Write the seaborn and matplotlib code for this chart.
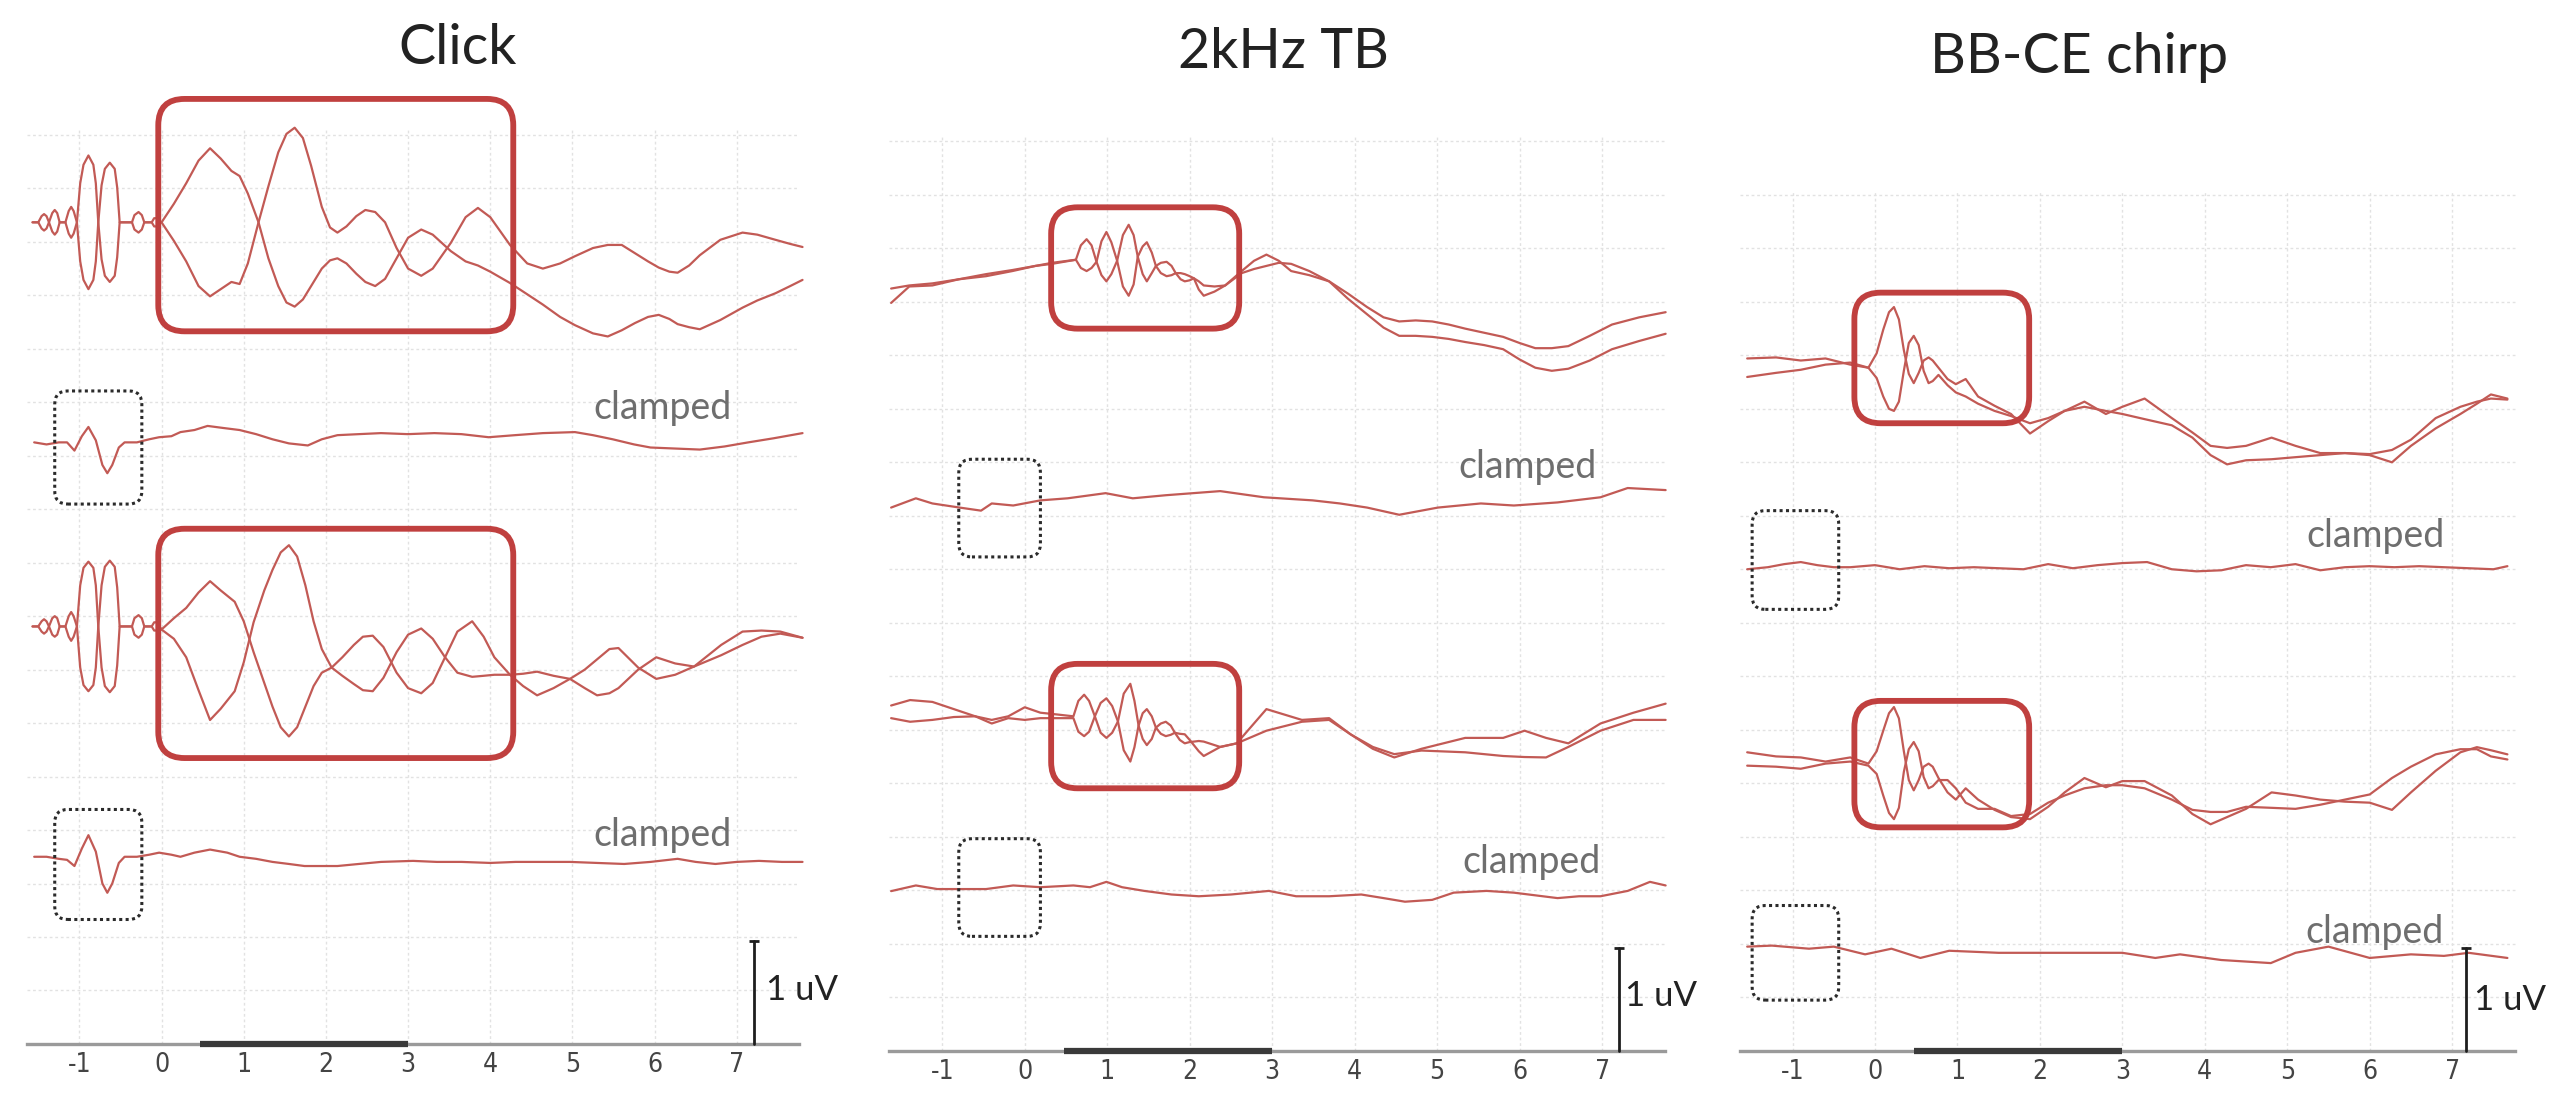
import numpy as np
import matplotlib.pyplot as plt
import seaborn as sns
from matplotlib.patches import FancyBboxPatch

sns.set_theme(style='white')
plt.rcParams['font.family'] = ['Lato', 'DejaVu Sans']
plt.rcParams['axes.unicode_minus'] = False

# ---------------- data (time in ms, amplitude in uV relative to row baseline) ----------------
titles = ['Click', '2kHz TB', 'BB-CE chirp']
tick_ms = [-1, 0, 1, 2, 3, 4, 5, 6, 7]

# Click, row 1 (two polarities): stimulus artefact then response
click_r1_t = [-1.57, -1.50, -1.46, -1.43, -1.40, -1.37, -1.33, -1.30, -1.27, -1.24, -1.17, -1.13,
              -1.10, -1.07, -1.03, -0.99, -0.95, -0.89, -0.83, -0.80, -0.77, -0.73, -0.69, -0.63,
              -0.57, -0.54, -0.51, -0.36, -0.33, -0.28, -0.24, -0.21, -0.12, -0.09, -0.06, -0.03,
              0.0, 0.15, 0.30, 0.45, 0.59, 0.72, 0.85, 0.95, 1.05, 1.18, 1.30, 1.42, 1.52, 1.62,
              1.72, 1.82, 1.95, 2.05, 2.14, 2.25, 2.37, 2.48, 2.60, 2.72, 2.86, 3.00, 3.16, 3.30,
              3.52, 3.70, 3.85, 4.00, 4.24, 4.45, 4.64, 4.85, 5.03, 5.25, 5.43, 5.60, 5.76, 5.92,
              6.05, 6.18, 6.28, 6.42, 6.55, 6.80, 7.07, 7.25, 7.47, 7.65, 7.80]
click_r1_a = [0, 0, 0.06, 0.08, 0.06, 0, -0.09, -0.12, -0.09, 0, 0, 0.11,
              0.15, 0.11, 0, -0.38, -0.56, -0.65, -0.56, -0.38, 0, 0.36, 0.52, 0.58,
              0.52, 0.34, 0, 0, 0.07, 0.10, 0.07, 0, 0, 0.04, 0.04, 0,
              0.0, 0.18, 0.38, 0.60, 0.72, 0.62, 0.50, 0.45, 0.28, 0.0, -0.35, -0.62, -0.78, -0.82,
              -0.75, -0.62, -0.45, -0.37, -0.35, -0.40, -0.50, -0.58, -0.62, -0.55, -0.35, -0.15,
              -0.07, -0.12, -0.28, -0.38, -0.42, -0.48, -0.59, -0.70, -0.80, -0.92, -1.00, -1.08,
              -1.11, -1.05, -0.98, -0.92, -0.90, -0.94, -0.99, -1.02, -1.04, -0.95, -0.83, -0.76,
              -0.69, -0.62, -0.56]
click_r1_b = [0, 0, -0.06, -0.08, -0.06, 0, 0.09, 0.12, 0.09, 0, 0, -0.11,
              -0.15, -0.11, 0, 0.38, 0.56, 0.65, 0.56, 0.38, 0, -0.36, -0.52, -0.58,
              -0.52, -0.34, 0, 0, -0.07, -0.10, -0.07, 0, 0, -0.04, -0.04, 0,
              0.0, -0.18, -0.38, -0.62, -0.72, -0.65, -0.58, -0.60, -0.40, 0.0, 0.35, 0.68, 0.86,
              0.92, 0.82, 0.55, 0.15, -0.05, -0.10, -0.04, 0.06, 0.12, 0.10, 0.0, -0.25, -0.45,
              -0.52, -0.45, -0.20, 0.05, 0.14, 0.05, -0.22, -0.40, -0.45, -0.40, -0.33, -0.25,
              -0.22, -0.22, -0.30, -0.38, -0.44, -0.48, -0.49, -0.42, -0.32, -0.17, -0.10, -0.12,
              -0.17, -0.21, -0.24]
# Click, row 2 (clamped)
click_r2_t = [-1.55, -1.40, -1.25, -1.15, -1.06, -0.97, -0.89, -0.80, -0.72, -0.66, -0.60, -0.52,
              -0.45, -0.30, -0.15, -0.03, 0.12, 0.23, 0.40, 0.56, 0.75, 0.95, 1.15, 1.35, 1.55,
              1.78, 1.95, 2.14, 2.40, 2.67, 3.00, 3.32, 3.65, 3.98, 4.30, 4.64, 5.03, 5.25, 5.49,
              5.75, 5.95, 6.25, 6.55, 6.85, 7.14, 7.45, 7.80]
click_r2_v = [0.0, -0.02, 0.0, 0.0, -0.08, 0.06, 0.15, 0.02, -0.22, -0.30, -0.22, -0.05,
              0.0, 0.0, 0.03, 0.05, 0.06, 0.10, 0.12, 0.16, 0.14, 0.12, 0.08, 0.03, -0.01,
              -0.03, 0.03, 0.07, 0.08, 0.09, 0.08, 0.09, 0.08, 0.05, 0.07, 0.09, 0.10, 0.07, 0.03,
              -0.02, -0.05, -0.06, -0.07, -0.04, 0.0, 0.04, 0.09]
# Click, row 3
click_r3_t = [-1.57, -1.50, -1.46, -1.43, -1.40, -1.37, -1.33, -1.30, -1.27, -1.24, -1.17, -1.13,
              -1.10, -1.07, -1.03, -0.99, -0.95, -0.89, -0.83, -0.80, -0.77, -0.73, -0.69, -0.63,
              -0.57, -0.54, -0.51, -0.36, -0.33, -0.28, -0.24, -0.21, -0.12, -0.09, -0.06, -0.03,
              0.0, 0.15, 0.30, 0.45, 0.59, 0.72, 0.89, 1.00, 1.12, 1.25, 1.35, 1.45, 1.55, 1.65,
              1.75, 1.85, 1.95, 2.07, 2.20, 2.34, 2.45, 2.57, 2.70, 2.86, 3.00, 3.16, 3.30, 3.45,
              3.60, 3.78, 3.92, 4.05, 4.24, 4.40, 4.57, 4.77, 4.97, 5.15, 5.30, 5.45, 5.56, 5.80,
              6.02, 6.25, 6.48, 6.81, 7.07, 7.30, 7.53, 7.80]
click_r3_a = [0, 0, 0.05, 0.07, 0.05, 0, -0.08, -0.10, -0.08, 0, 0, 0.10,
              0.14, 0.10, 0, -0.40, -0.57, -0.63, -0.57, -0.40, 0, 0.40, 0.58, 0.64,
              0.58, 0.38, 0, 0, 0.08, 0.11, 0.08, 0, 0, 0.04, 0.04, 0,
              -0.03, 0.08, 0.18, 0.33, 0.44, 0.35, 0.24, 0.05, -0.25, -0.55, -0.78, -0.98, -1.07,
              -0.98, -0.78, -0.58, -0.45, -0.40, -0.30, -0.18, -0.10, -0.09, -0.20, -0.45, -0.60,
              -0.65, -0.55, -0.30, -0.05, 0.05, -0.10, -0.30, -0.47, -0.46, -0.44, -0.48, -0.51,
              -0.42, -0.32, -0.22, -0.21, -0.40, -0.51, -0.47, -0.39, -0.18, -0.05, -0.04, -0.05,
              -0.11]
click_r3_b = [0, 0, -0.05, -0.07, -0.05, 0, 0.08, 0.10, 0.08, 0, 0, -0.10,
              -0.14, -0.10, 0, 0.40, 0.57, 0.63, 0.57, 0.40, 0, -0.40, -0.58, -0.64,
              -0.58, -0.38, 0, 0, -0.08, -0.11, -0.08, 0, 0, -0.04, -0.04, 0,
              -0.03, -0.12, -0.30, -0.62, -0.91, -0.80, -0.63, -0.35, 0.04, 0.35, 0.55, 0.72, 0.79,
              0.68, 0.40, 0.05, -0.22, -0.40, -0.48, -0.56, -0.62, -0.63, -0.50, -0.25, -0.08,
              -0.02, -0.12, -0.30, -0.45, -0.49, -0.48, -0.47, -0.47, -0.58, -0.67, -0.60, -0.51,
              -0.60, -0.67, -0.65, -0.60, -0.42, -0.30, -0.36, -0.39, -0.28, -0.18, -0.10, -0.07,
              -0.11]
# Click, row 4 (clamped)
click_r4_t = [-1.55, -1.40, -1.25, -1.15, -1.06, -0.97, -0.89, -0.80, -0.72, -0.66, -0.60, -0.52,
              -0.45, -0.30, -0.15, -0.03, 0.12, 0.23, 0.40, 0.59, 0.80, 0.95, 1.15, 1.35, 1.55,
              1.74, 1.95, 2.14, 2.40, 2.67, 3.06, 3.35, 3.65, 4.00, 4.31, 4.64, 4.97, 5.30, 5.63,
              5.95, 6.28, 6.50, 6.74, 7.00, 7.27, 7.55, 7.80]
click_r4_v = [0.0, 0.0, -0.02, -0.03, -0.09, 0.08, 0.21, 0.05, -0.26, -0.35, -0.26, -0.06,
              0.0, 0.0, 0.02, 0.04, 0.02, 0.0, 0.04, 0.07, 0.04, 0.0, -0.02, -0.05, -0.07,
              -0.09, -0.09, -0.09, -0.07, -0.05, -0.04, -0.05, -0.05, -0.06, -0.05, -0.05, -0.05,
              -0.06, -0.07, -0.05, -0.02, -0.05, -0.07, -0.05, -0.04, -0.05, -0.05]

# 2kHz TB, row 1
tb_r1_t = [-1.62, -1.40, -1.12, -0.80, -0.47, -0.15, 0.13, 0.33,
           0.62, 0.68, 0.75, 0.81, 0.87, 0.93, 0.99, 1.05, 1.12, 1.19, 1.26, 1.32, 1.37, 1.43,
           1.48, 1.54, 1.59, 1.65, 1.72, 1.78, 1.83, 1.89, 1.94, 2.00, 2.05, 2.11, 2.17, 2.30,
           2.43,
           2.63, 2.78, 2.93, 3.08, 3.23, 3.45, 3.69, 3.92, 4.15, 4.35, 4.54, 4.74, 4.94, 5.14,
           5.34, 5.57, 5.80, 6.00, 6.19, 6.39, 6.59, 6.85, 7.12, 7.45, 7.77]
tb_r1_a = [-0.17, -0.14, -0.12, -0.08, -0.05, 0.0, 0.05, 0.08,
           0.11, 0.25, 0.31, 0.25, 0.09, -0.04, -0.10, -0.03, 0.10, 0.35, 0.45, 0.35, 0.14, -0.03,
           -0.10, -0.02, 0.05, 0.08, 0.09, 0.05, -0.02, -0.08, -0.10, -0.09, -0.07, -0.10, -0.14,
           -0.15, -0.14,
           0.0, 0.10, 0.16, 0.10, 0.0, -0.04, -0.10, -0.22, -0.35, -0.45, -0.49, -0.48, -0.49,
           -0.52, -0.56, -0.60, -0.64, -0.70, -0.75, -0.75, -0.73, -0.63, -0.52, -0.45, -0.40]
tb_r1_b = [-0.31, -0.15, -0.14, -0.08, -0.03, 0.01, 0.05, 0.07,
           0.11, 0.03, 0.0, 0.03, 0.09, 0.29, 0.38, 0.28, 0.10, -0.15, -0.24, -0.13, 0.14, 0.24,
           0.28, 0.18, 0.05, -0.02, -0.05, -0.04, -0.02, -0.02, -0.03, -0.05, -0.07, -0.18, -0.24,
           -0.20, -0.14,
           -0.02, 0.02, 0.05, 0.08, 0.07, 0.0, -0.10, -0.27, -0.42, -0.55, -0.63, -0.63, -0.64,
           -0.66, -0.69, -0.72, -0.76, -0.86, -0.94, -0.97, -0.95, -0.87, -0.76, -0.68, -0.61]
# 2kHz TB, row 2 (clamped)
tb_r2_t = [-1.62, -1.32, -1.12, -0.79, -0.53, -0.40, -0.14, 0.19, 0.52, 0.98, 1.31, 1.71, 2.37,
           2.90, 3.49, 3.82, 4.15, 4.54, 5.01, 5.53, 5.93, 6.46, 6.98, 7.31, 7.77]
tb_r2_v = [-0.07, 0.02, -0.03, -0.07, -0.10, -0.03, -0.05, 0.0, 0.02, 0.07, 0.02, 0.05, 0.09,
           0.03, 0.0, -0.03, -0.07, -0.14, -0.07, -0.03, -0.05, -0.02, 0.03, 0.12, 0.10]
# 2kHz TB, row 3
tb_r3_t = [-1.62, -1.39, -1.12, -0.86, -0.60, -0.40, -0.20, 0.0, 0.19, 0.39,
           0.59, 0.65, 0.72, 0.78, 0.85, 0.92, 0.99, 1.06, 1.13, 1.20, 1.28, 1.33, 1.38, 1.43,
           1.48, 1.54, 1.59, 1.65, 1.71, 1.77, 1.82, 1.88, 1.94, 2.00, 2.05, 2.11, 2.17, 2.37,
           2.57,
           2.93, 3.36, 3.69, 3.95, 4.22, 4.48, 4.81, 5.34, 5.80, 6.06, 6.32, 6.59, 6.98, 7.38,
           7.77]
tb_r3_a = [0.105, 0.158, 0.14, 0.07, 0.0, -0.035, 0.0, 0.088, 0.035, 0.018,
           0.0, 0.15, 0.21, 0.15, 0.0, -0.16, -0.21, -0.16, -0.05, 0.22, 0.316, 0.15, -0.09,
           -0.22, -0.28, -0.22, -0.11, -0.07, -0.053, -0.09, -0.16, -0.23, -0.263, -0.25, -0.246,
           -0.24, -0.246, -0.298, -0.263,
           0.07, -0.035, -0.018, -0.175, -0.316, -0.40, -0.316, -0.21, -0.21, -0.14, -0.21,
           -0.263, -0.07, 0.035, 0.123]
tb_r3_b = [-0.018, -0.053, -0.035, -0.007, 0.0, -0.07, -0.018, -0.035, -0.018, -0.018,
           -0.018, -0.15, -0.193, -0.15, 0.0, 0.13, 0.175, 0.10, -0.05, -0.33, -0.44, -0.30,
           -0.09, 0.03, 0.07, 0.0, -0.11, -0.17, -0.193, -0.18, -0.16, -0.17, -0.175, -0.23,
           -0.28, -0.34, -0.386, -0.298, -0.263,
           -0.14, -0.053, -0.035, -0.175, -0.298, -0.368, -0.333, -0.35, -0.386, -0.396, -0.40,
           -0.298, -0.14, -0.035, -0.035]
# 2kHz TB, row 4 (clamped)
tb_r4_t = [-1.62, -1.32, -1.06, -0.79, -0.47, -0.14, 0.19, 0.59, 0.79, 0.99, 1.18, 1.45, 1.78,
           2.11, 2.50, 2.96, 3.29, 3.69, 4.08, 4.35, 4.61, 4.94, 5.20, 5.60, 5.93, 6.46, 6.72,
           6.98, 7.31, 7.58, 7.77]
tb_r4_v = [-0.02, 0.035, 0.0, 0.0, 0.0, 0.035, 0.018, 0.035, 0.018, 0.07, 0.018, -0.018, -0.053,
           -0.07, -0.053, -0.018, -0.07, -0.07, -0.053, -0.088, -0.123, -0.105, -0.035, -0.018,
           -0.035, -0.088, -0.07, -0.07, -0.018, 0.07, 0.035]

# BB-CE chirp, rows 1 and 3 share sample times
chirp_t = [-1.55, -1.2, -0.9, -0.6, -0.3,
           -0.08, 0.02, 0.10, 0.17, 0.23, 0.29, 0.35, 0.41, 0.47, 0.53, 0.59, 0.65, 0.70, 0.77,
           0.88, 0.98, 1.10,
           1.25, 1.45, 1.65, 1.88, 2.1, 2.3, 2.54, 2.8, 3.0, 3.27, 3.6, 3.85, 4.07, 4.27, 4.5,
           4.81, 5.1, 5.4, 5.7, 6.0, 6.27, 6.5, 6.8, 7.1, 7.3, 7.47, 7.67]
chirp_r1_a = [0.07, 0.08, 0.05, 0.07, 0.01,
              -0.02, 0.12, 0.35, 0.52, 0.57, 0.45, 0.15, -0.08, -0.17, -0.07, 0.05, 0.08, 0.05,
              -0.02, -0.13, -0.18, -0.13,
              -0.30, -0.39, -0.47, -0.66, -0.54, -0.44, -0.35, -0.47, -0.40, -0.32, -0.51, -0.65,
              -0.78, -0.80, -0.78, -0.70, -0.78, -0.85, -0.85, -0.87, -0.94, -0.78, -0.61, -0.47,
              -0.37, -0.28, -0.32]
chirp_r1_b = [-0.11, -0.07, -0.04, 0.01, 0.03,
              -0.02, -0.12, -0.30, -0.42, -0.44, -0.35, -0.05, 0.22, 0.29, 0.20, -0.05, -0.17,
              -0.15, -0.09, -0.19, -0.26, -0.30,
              -0.37, -0.44, -0.49, -0.56, -0.51, -0.44, -0.40, -0.44, -0.47, -0.52, -0.58, -0.70,
              -0.87, -0.96, -0.92, -0.91, -0.89, -0.87, -0.85, -0.86, -0.82, -0.72, -0.51, -0.40,
              -0.35, -0.32, -0.33]
chirp_r3_a = [0.09, 0.05, 0.04, 0.0, 0.04,
              -0.02, 0.10, 0.30, 0.47, 0.53, 0.42, 0.10, -0.18, -0.28, -0.18, -0.05, -0.02, -0.05,
              -0.16, -0.30, -0.37, -0.26,
              -0.37, -0.47, -0.54, -0.56, -0.44, -0.30, -0.16, -0.25, -0.19, -0.19, -0.33, -0.51,
              -0.61, -0.54, -0.46, -0.30, -0.33, -0.37, -0.39, -0.40, -0.47, -0.30, -0.09, 0.09,
              0.14, 0.11, 0.07]
chirp_r3_b = [-0.04, -0.05, -0.07, -0.02, 0.0,
              -0.04, -0.12, -0.33, -0.50, -0.56, -0.45, -0.10, 0.12, 0.19, 0.10, -0.15, -0.26,
              -0.24, -0.18, -0.18, -0.26, -0.40,
              -0.46, -0.46, -0.53, -0.51, -0.40, -0.33, -0.26, -0.23, -0.23, -0.26, -0.37, -0.47,
              -0.49, -0.49, -0.44, -0.45, -0.46, -0.42, -0.37, -0.32, -0.16, -0.05, 0.07, 0.12,
              0.12, 0.05, 0.02]
# BB-CE chirp, row 2 (clamped)
chirp_r2_t = [-1.55, -1.3, -1.1, -0.9, -0.7, -0.5, -0.3, 0.0, 0.3, 0.6, 0.9, 1.2, 1.5, 1.8, 2.1,
              2.4, 2.7, 3.0, 3.3, 3.6, 3.9, 4.2, 4.5, 4.8, 5.1, 5.4, 5.7, 6.0, 6.3, 6.6, 6.9, 7.2,
              7.5, 7.67]
chirp_r2_v = [-0.02, 0.0, 0.03, 0.05, 0.02, 0.0, 0.0, 0.02, -0.02, 0.01, -0.01, 0.0, -0.01, -0.02,
              0.03, -0.01, 0.02, 0.04, 0.05, -0.02, -0.04, -0.03, 0.02, 0.0, 0.03, -0.03, 0.0,
              0.01, 0.0, 0.01, 0.0, -0.01, -0.02, 0.01]
# BB-CE chirp, row 4 (clamped)
chirp_r4_t = [-1.55, -1.25, -0.8, -0.5, -0.12, 0.2, 0.55, 0.9, 1.5, 2.2, 3.0, 3.4, 3.7, 4.2, 4.8,
              5.1, 5.5, 6.0, 6.5, 6.9, 7.2, 7.67]
chirp_r4_v = [0.04, 0.05, 0.02, 0.04, -0.035, 0.02, -0.07, 0.0, -0.02, -0.02, -0.02, -0.07,
              -0.035, -0.09, -0.12, -0.02, 0.04, -0.07, -0.035, -0.05, -0.02, -0.07]

# ---------------- layout ----------------
TRACE = '#c25a55'
BOX_RED = '#c0403f'
GRID = '#e2e2e2'

panels = [
    dict(title=titles[0], title_xy=(3.60, 9.68), rect=[0 / 1568, 0, 515 / 1568, 1],
         xlim=(-1.966, 8.27), ylim=(-0.594, 10.152), grid_top=8.9,
         rows=[(7.99, click_r1_t, [click_r1_a, click_r1_b]),
               (5.85, click_r2_t, [click_r2_v]),
               (4.06, click_r3_t, [click_r3_a, click_r3_b]),
               (1.82, click_r4_t, [click_r4_v])],
         red=[(-0.04, 4.28, 6.93, 9.19), (-0.04, 4.28, 2.78, 5.01)],
         dot=[(-1.30, -0.24, 5.25, 6.35), (-1.30, -0.24, 1.21, 2.28)],
         clamped=[(6.09, 6.18), (6.09, 2.03)], bar_x=7.21, uv_xy=(7.35, 0.52)),
    dict(title=titles[1], title_xy=(3.14, 9.71), rect=[525 / 1568, 0, 515 / 1568, 1],
         xlim=(-2.028, 8.17), ylim=(-0.53, 10.216), grid_top=8.9,
         rows=[(7.58, tb_r1_t, [tb_r1_a, tb_r1_b]),
               (5.35, tb_r2_t, [tb_r2_v]),
               (3.25, tb_r3_t, [tb_r3_a, tb_r3_b]),
               (1.57, tb_r4_t, [tb_r4_v])],
         red=[(0.32, 2.60, 7.02, 8.20), (0.32, 2.60, 2.55, 3.76)],
         dot=[(-0.80, 0.19, 4.80, 5.75), (-0.80, 0.19, 1.11, 2.06)],
         clamped=[(6.09, 5.67), (6.14, 1.83)], bar_x=7.20, uv_xy=(7.28, 0.53)),
    dict(title=titles[2], title_xy=(2.48, 9.66), rect=[1045 / 1568, 0, 523 / 1568, 1],
         xlim=(-2.04, 8.32), ylim=(-0.53, 10.216), grid_top=8.35,
         rows=[(6.66, chirp_t, [chirp_r1_a, chirp_r1_b]),
               (4.70, chirp_r2_t, [chirp_r2_v]),
               (2.81, chirp_t, [chirp_r3_a, chirp_r3_b]),
               (0.97, chirp_r4_t, [chirp_r4_v])],
         red=[(-0.25, 1.87, 6.10, 7.37), (-0.25, 1.87, 2.17, 3.40)],
         dot=[(-1.49, -0.44, 4.29, 5.25), (-1.49, -0.44, 0.49, 1.41)],
         clamped=[(6.07, 5.00), (6.06, 1.15)], bar_x=7.17, uv_xy=(7.27, 0.49)),
]


def rounded_box(ax, x0, x1, y0, y1, color, lw, ls, r):
    ax.add_patch(FancyBboxPatch((x0, y0), x1 - x0, y1 - y0,
                                boxstyle=f'round,pad=0,rounding_size={r}',
                                mutation_aspect=0.8, fc='none', ec=color, lw=lw, ls=ls,
                                zorder=4))


fig = plt.figure(figsize=(25.61, 11.05), dpi=100)

for p in panels:
    ax = fig.add_axes(p['rect'])
    ax.patch.set_alpha(0)
    ax.set_xlim(*p['xlim'])
    ax.set_ylim(*p['ylim'])

    # faint recorder grid
    ax.vlines(tick_ms, 0, p['grid_top'], color=GRID, lw=1.0, ls=(0, (2, 2)), zorder=0)
    ax.hlines(np.arange(0.52, p['grid_top'] + 0.01, 0.52), -1.64, 7.76,
              color=GRID, lw=1.0, ls=(0, (2, 2)), zorder=0)

    # waveforms
    for base, t, series in p['rows']:
        for v in series:
            sns.lineplot(x=t, y=np.array(v) + base, ax=ax, color=TRACE, lw=1.6,
                         estimator=None, sort=False, legend=False, zorder=3)

    for x0, x1, y0, y1 in p['red']:
        rounded_box(ax, x0, x1, y0, y1, BOX_RED, 4.2, '-', 0.32)
    for x0, x1, y0, y1 in p['dot']:
        rounded_box(ax, x0, x1, y0, y1, '#2b2b2b', 2.2, (0, (1, 1.1)), 0.16)

    for x, y in p['clamped']:
        ax.text(x, y, 'clamped', fontsize=27, color='#6e6e6e', ha='center', va='center',
                zorder=5)

    ax.text(*p['title_xy'], p['title'], fontsize=40, color='#222222', ha='center', va='center')

    # time axis with stimulus bar
    for side in ['left', 'right', 'top']:
        ax.spines[side].set_visible(False)
    ax.spines['bottom'].set_position(('data', 0))
    ax.spines['bottom'].set_bounds(-1.64, 7.76)
    ax.spines['bottom'].set_color('#9a9a9a')
    ax.spines['bottom'].set_linewidth(2.4)
    ax.plot([0.47, 3.0], [0, 0], color='#3a3a3a', lw=4.5, solid_capstyle='butt', zorder=5)
    ax.set_xticks(tick_ms)
    ax.set_xticklabels([str(v) for v in tick_ms], fontsize=19, color='#444444',
                       family=['DejaVu Sans'], fontstretch='condensed')
    ax.tick_params(axis='x', length=0, pad=6)
    ax.set_yticks([])
    ax.set_xlabel('')
    ax.set_ylabel('')

    # 1 uV calibration bar
    ax.plot([p['bar_x'], p['bar_x']], [0, 1], color='#1e1e1e', lw=2.0, zorder=5)
    ax.plot([p['bar_x']], [1], marker='_', ms=7, mew=2, color='#1e1e1e', zorder=5)
    ax.text(*p['uv_xy'], '1 uV', fontsize=25, color='#222222', ha='left', va='center')

fig.savefig('out.png', dpi=100)
